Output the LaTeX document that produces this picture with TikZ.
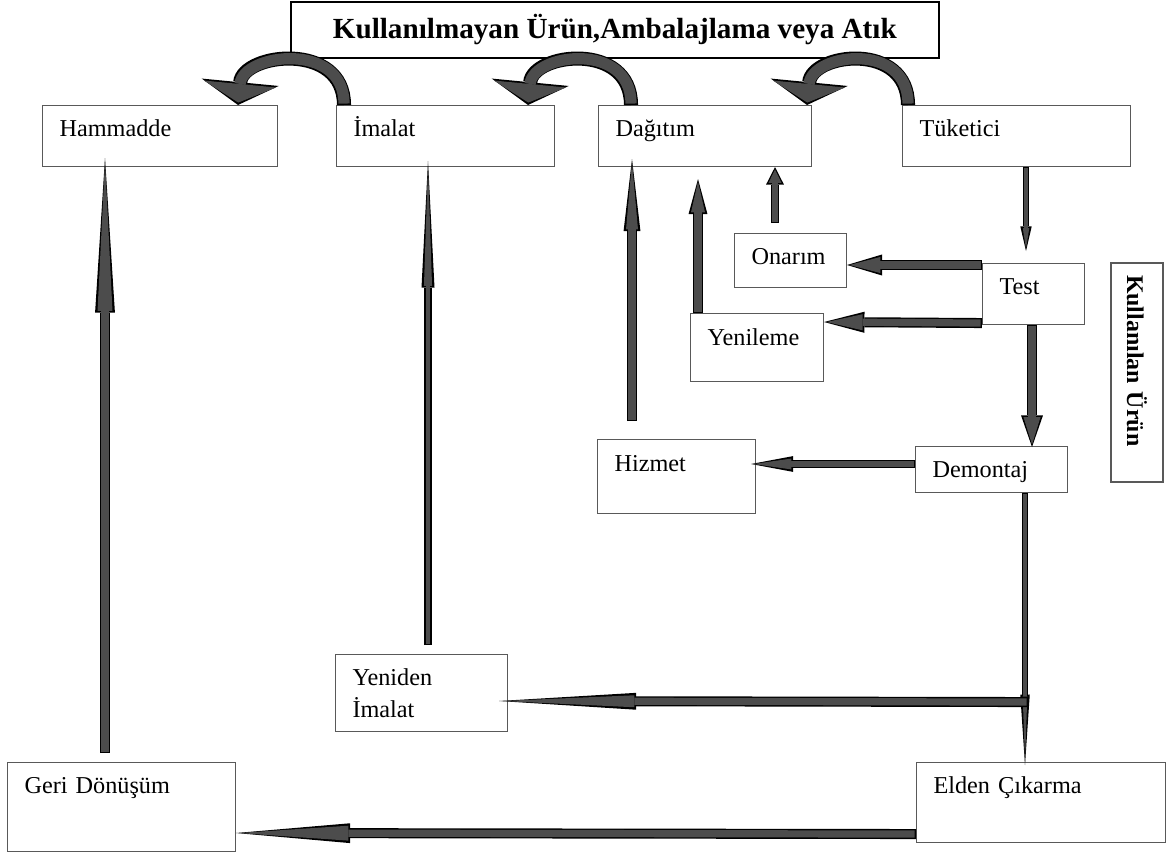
\documentclass[tikz,border=0pt]{standalone}
\usepackage{fontspec}
\setmainfont{Liberation Serif}
\usetikzlibrary{arrows.meta, calc}
\newcommand{\blokOk}[4]{ % args = path, shaft width, head width, head length
	\pgfmathsetlengthmacro{\icGovde}{#2-1.6pt}
	\pgfmathsetlengthmacro{\icBasW}{#3-2.8pt}
	\pgfmathsetlengthmacro{\icBasL}{#4-2.4pt}
	\draw[black, line width=#2, -{Triangle[width=#3, length=#4, line width=0pt]}] #1; % outline of the arrow
	\draw[black!70, line width=\icGovde, shorten <=.8pt, shorten >=1.4pt, -{Triangle[width=\icBasW, length=\icBasL, line width=0pt]}] #1; % inside of the arrow
}

\begin{document}
\begin{tikzpicture}[x=0.02cm, y=-0.02cm,
	kutu/.style={draw=black!65, line width=.6pt, fill=white, anchor=north west, align=left, inner xsep=.34cm, inner ysep=0pt, font=\fontsize{13.8}{18}\selectfont},
	baslik/.style={draw=black, line width=1pt, fill=white, anchor=north west, minimum width=12.96cm, minimum height=1.12cm, font=\bfseries\fontsize{16.6}{20}\selectfont}]
	\useasboundingbox (0,0) rectangle (1166,855);
		% boxes = stages
		\node[baslik] (kullanilmayan) at (290,1) {Kullanılmayan Ürün,Ambalajlama veya Atık};
		\node[kutu, text width=4.02cm, text height=.62cm, text depth=.60cm] (hammadde) at (42,105) {Hammadde};
		\node[kutu, text width=3.68cm, text height=.62cm, text depth=.60cm] (imalat) at (336,105) {İmalat};
		\node[kutu, text width=3.58cm, text height=.62cm, text depth=.60cm] (dagitim) at (598,105) {Dağıtım};
		\node[kutu, text width=3.88cm, text height=.62cm, text depth=.60cm] (tuketici) at (902,105) {Tüketici};
		\node[kutu, text width=1.56cm, text height=.62cm, text depth=.46cm] (onarim) at (734,233) {Onarım};
		\node[kutu, text width=1.36cm, text height=.62cm, text depth=.60cm] (test) at (982,263) {Test};
		\node[kutu, text width=1.98cm, text height=.64cm, text depth=.72cm] (yenileme) at (690,313) {Yenileme};
		\node[kutu, text width=2.48cm, text height=.64cm, text depth=.84cm] (hizmet) at (597,439) {Hizmet};
		\node[kutu, text width=2.36cm, text height=.62cm, text depth=.30cm] (demontaj) at (915,446) {Demontaj};
		\node[kutu, text width=2.76cm, text height=.62cm, text depth=.92cm] (yeniden) at (335,654) {Yeniden\\İmalat};
		\node[kutu, text width=3.88cm, text height=.62cm, text depth=1.16cm] (geri) at (7,762) {Geri Dönüşüm};
		\node[kutu, text width=4.30cm, text height=.62cm, text depth=.98cm] (elden) at (916,762) {Elden Çıkarma};
		\node[kutu, rotate=-90, anchor=center, minimum width=4.38cm, minimum height=1.04cm, text width=3.9cm, inner xsep=.24cm, font=\bfseries\fontsize{13.6}{16}\selectfont] (kullanilan) at (1137,372.5) {Kullanılan Ürün};
		% curved arrows = unused product
		\blokOk{($(imalat.north west)+(8,0)$) .. controls +(0,-64) and +(5,-52) .. ($(hammadde.north east)+(-40,0)$)}{8pt}{44pt}{13pt}
		\blokOk{($(dagitim.north west)+(33,0)$) .. controls +(0,-64) and +(5,-52) .. ($(imalat.north east)+(-27,0)$)}{8pt}{44pt}{13pt}
		\blokOk{($(tuketici.north west)+(6,0)$) .. controls +(0,-64) and +(5,-52) .. ($(dagitim.north east)+(-5,0)$)}{8pt}{44pt}{13pt}
		% straight arrows = used product
		\blokOk{($(tuketici.south west)+(124,0)$) -- ($(test.north west)+(44,-12)$)}{3.4pt}{6.5pt}{14pt}
		\blokOk{($(test.north west)+(0,2)$) -- ($(onarim.north east)+(0,32)$)}{6.2pt}{12pt}{20pt}
		\blokOk{($(test.south west)+(0,-2)$) -- ($(yenileme.north east)+(0,9)$)}{5.7pt}{12pt}{23pt}
		\blokOk{($(onarim.north west)+(41,-10)$) -- ($(dagitim.south west)+(177,0)$)}{5.1pt}{10.2pt}{10pt}
		\blokOk{($(yenileme.north west)+(8,0)$) -- ($(dagitim.south west)+(100,12)$)}{5.7pt}{10.8pt}{20pt}
		\blokOk{($(hizmet.north west)+(35,-18)$) -- ($(dagitim.south west)+(34,-8)$)}{5.7pt}{9.6pt}{41pt}
		\blokOk{($(test.south west)+(50,0)$) -- ($(demontaj.north west)+(117,1)$)}{6.2pt}{12.5pt}{18pt}
		\blokOk{($(demontaj.north west)+(0,18)$) -- ($(hizmet.north east)+(-5,25)$)}{4.5pt}{9pt}{24pt}
		\coordinate (ayrim) at ($(demontaj.south west)+(113,209)$);
		\blokOk{($(demontaj.south west)+(110,0)$) -- ($(elden.north west)+(109,3)$)}{3.4pt}{5.4pt}{40pt}
		\blokOk{(ayrim) -- ($(yeniden.north east)+(-9,47)$)}{5.7pt}{9.6pt}{78pt}
		\blokOk{($(elden.south west)+(0,-9)$) -- ($(geri.north east)+(0,71)$)}{5.7pt}{11.3pt}{65pt}
		\blokOk{($(geri.north west)+(98,-9)$) -- ($(hammadde.south west)+(63,-9)$)}{6.2pt}{11.3pt}{88pt}
		\blokOk{($(yeniden.north west)+(93,-9)$) -- ($(imalat.south west)+(92,-6)$)}{4pt}{7.4pt}{72pt}
\end{tikzpicture}
\end{document}
